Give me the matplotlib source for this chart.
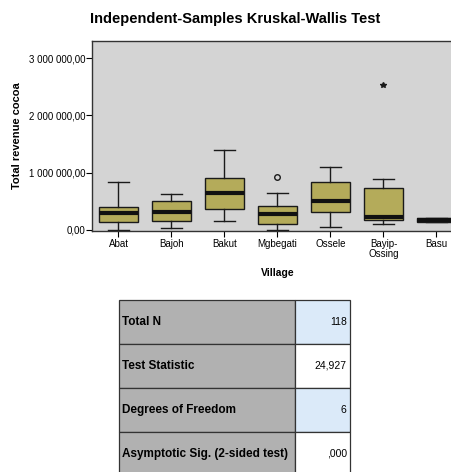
import matplotlib.pyplot as plt
from matplotlib.ticker import FuncFormatter

plt.rcParams['font.family'] = ['Liberation Sans', 'DejaVu Sans']

# Revenue per village (millions) - five-number summaries
villages = ['Abat', 'Bajoh', 'Bakut', 'Mgbegati', 'Ossele', 'Bayip-\nOssing', 'Basu']
whis_lo = [0.00, 0.03, 0.16, 0.00, 0.05, 0.10, 0.13]
q1 = [0.14, 0.16, 0.37, 0.10, 0.31, 0.17, 0.13]
med = [0.30, 0.31, 0.65, 0.28, 0.51, 0.23, 0.17]
q3 = [0.40, 0.51, 0.91, 0.42, 0.84, 0.74, 0.21]
whis_hi = [0.84, 0.63, 1.40, 0.65, 1.09, 0.89, 0.21]
outliers = [[], [], [], [0.93], [], [], []]
extremes = [[], [], [], [], [], [2.53], []]

tbl_labels = ['Total N', 'Test Statistic', 'Degrees of Freedom',
              'Asymptotic Sig. (2-sided test)']
tbl_values = ['118', '24,927', '6', ',000']

box_col = '#b4ab5a'
bg_col = '#d4d4d4'

fig = plt.figure(figsize=(4.52, 4.72), dpi=100)
fig.patch.set_facecolor('white')

# ---- boxplot panel (runs off the right edge, as in the export) ----
ax = fig.add_axes([92 / 452, 1 - 231 / 472, 371 / 452, 190 / 472])
ax.set_facecolor(bg_col)

stats = []
for i in range(len(villages)):
    stats.append(dict(whislo=whis_lo[i] * 1e6, q1=q1[i] * 1e6, med=med[i] * 1e6,
                      q3=q3[i] * 1e6, whishi=whis_hi[i] * 1e6, fliers=[]))
pos = list(range(1, len(villages) + 1))
ax.bxp(stats, positions=pos, widths=0.75, patch_artist=True, showfliers=False,
       boxprops=dict(facecolor=box_col, edgecolor='#1a1a1a', linewidth=1.0),
       medianprops=dict(color='#111111', linewidth=3.0),
       whiskerprops=dict(color='#1a1a1a', linewidth=1.0),
       capprops=dict(color='#1a1a1a', linewidth=1.0),
       capwidths=0.38)

# Basu has almost no spread -> solid black bar
ax.bar(7, (q3[6] - q1[6]) * 1e6, bottom=q1[6] * 1e6, width=0.75,
       color='#111111', zorder=3)

for i in range(len(villages)):
    for v in outliers[i]:
        ax.plot(pos[i], v * 1e6, marker='o', ms=4, mfc='none', mec='#1a1a1a', mew=1)
    for v in extremes[i]:
        ax.plot(pos[i], v * 1e6, marker='*', ms=4, color='#1a1a1a')

ax.set_xlim(0.5, 7.5)
ax.set_ylim(-0.02e6, 3.30e6)
ax.set_yticks([0, 1e6, 2e6, 3e6])
ax.yaxis.set_major_formatter(FuncFormatter(
    lambda v, p: f'{v:,.2f}'.replace(',', ' ').replace('.', ',')))
ax.set_xticks(pos)
ax.set_xticklabels(villages, fontsize=7, linespacing=0.9)
ax.tick_params(axis='y', labelsize=7, length=4, width=0.8, pad=1)
ax.tick_params(axis='x', length=4, width=0.8, pad=2)
for s in ax.spines.values():
    s.set_color('#333333')
    s.set_linewidth(1.0)
ax.set_xlabel('Village', fontsize=7.5, fontweight='bold', labelpad=7)
ax.set_ylabel('Total revenue cocoa', fontsize=8, fontweight='bold', labelpad=5)

fig.text(235 / 452, 1 - 19 / 472, 'Independent-Samples Kruskal-Wallis Test',
         ha='center', va='center', fontsize=10.5, fontweight='bold')

# ---- test summary table ----
tax = fig.add_axes([119 / 452, 1 - 476 / 472, 231 / 452, 176 / 472])
tax.axis('off')
colours = [['#b1b1b1', '#dbeaf9'], ['#b1b1b1', 'white'],
           ['#b1b1b1', '#dbeaf9'], ['#b1b1b1', 'white']]
cells = [[tbl_labels[i], tbl_values[i]] for i in range(len(tbl_labels))]
table = tax.table(cellText=cells, cellColours=colours, colWidths=[0.76, 0.24],
                  bbox=[0, 0, 1, 1])
table.auto_set_font_size(False)
for (r, c), cell in table.get_celld().items():
    cell.set_edgecolor('#333333')
    cell.set_linewidth(0.9)
    t = cell.get_text()
    if c == 0:
        t.set_fontsize(8.5)
        t.set_fontweight('bold')
        t.set_ha('left')
        cell.PAD = 0.015
    else:
        t.set_fontsize(7.5)
        t.set_ha('right')
        cell.PAD = 0.06

fig.savefig('out.png', dpi=100, facecolor='white')
